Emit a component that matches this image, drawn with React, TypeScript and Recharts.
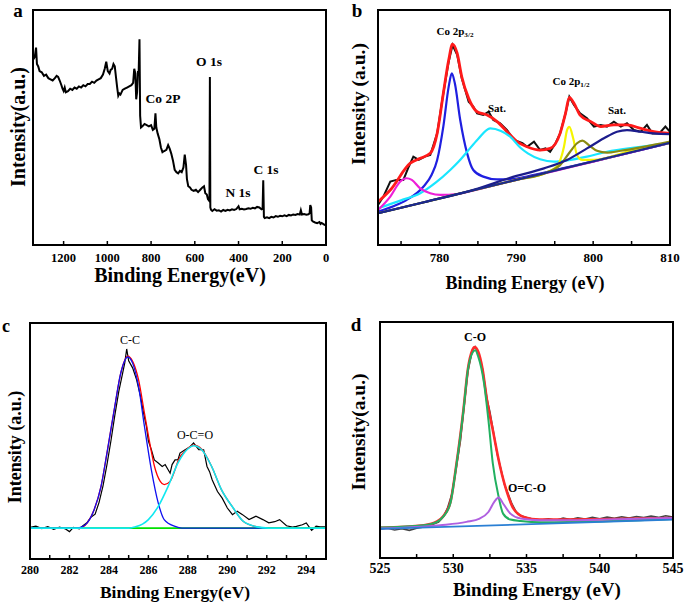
import React from "react";
import { LineChart, Line, XAxis, YAxis } from "recharts";

type Pt = [number, number];

// ---------- a: survey spectrum ----------
const surveyTicks = [1200, 1000, 800, 600, 400, 200, 0];
const survey: Pt[] = [
  [1338, 79], [1332, 80], [1326, 84], [1322, 77], [1316, 76], [1310, 74], [1300, 73.5], [1290, 72],
  [1280, 72.5], [1270, 71], [1260, 70.5], [1250, 70], [1240, 71], [1232, 72], [1225, 71.5], [1218, 70],
  [1210, 68], [1205, 66.5], [1200, 65.5], [1195, 67], [1190, 65], [1180, 65.5], [1170, 66.5], [1160, 66],
  [1150, 67], [1140, 66.5], [1130, 67.5], [1120, 67], [1110, 68], [1100, 67.5], [1090, 68.5], [1080, 68.5],
  [1070, 69.5], [1060, 69], [1050, 70], [1040, 70.5], [1030, 71], [1020, 72.5], [1012, 75], [1005, 78],
  [998, 74], [990, 73], [985, 74.5], [978, 75], [972, 77], [966, 76], [960, 71], [955, 67], [950, 63.5],
  [945, 64.5], [940, 64], [930, 66], [920, 66.5], [910, 67], [900, 67.5], [890, 68], [882, 69], [877, 75],
  [872, 73], [868, 62], [864, 65], [860, 74], [857, 73], [853, 87.5], [850, 55], [846, 50], [840, 50.5],
  [830, 51.5], [820, 51], [810, 50.5], [800, 51], [792, 49], [785, 49.5], [780, 56], [776, 50], [770, 47.5],
  [762, 45], [755, 41.5], [748, 39.5], [740, 40], [730, 40.5], [722, 42.5], [715, 41], [708, 39], [700, 36],
  [692, 32], [684, 31], [676, 30.5], [668, 31.5], [660, 31], [652, 33], [646, 38.5], [640, 34], [636, 28],
  [630, 25], [622, 24.5], [615, 23.5], [605, 23], [595, 23.5], [585, 22.5], [575, 23.5], [565, 24.5],
  [558, 25], [552, 22], [545, 21.5], [540, 19.5], [536, 19], [533, 20], [531, 71.5], [529, 16], [526, 15],
  [520, 14.5], [510, 15.2], [500, 14.6], [490, 14.8], [480, 14.2], [470, 14.9], [460, 14.5], [450, 15],
  [440, 14.7], [430, 15.2], [420, 14.9], [410, 15.3], [400, 16.5], [395, 15.2], [385, 15.4], [375, 15.1],
  [365, 15.3], [355, 15.6], [345, 15.4], [335, 15.8], [325, 15.6], [315, 16.2], [305, 16], [295, 15.2],
  [290, 15.5], [287, 27.5], [284, 12], [280, 11.5], [270, 11.8], [260, 11.4], [250, 12], [240, 11.7],
  [230, 12.3], [220, 12], [210, 12.4], [200, 12.2], [190, 12.6], [180, 12.3], [170, 12.8], [160, 12.6],
  [150, 13], [140, 12.8], [130, 13.2], [120, 13], [115, 14.8], [110, 13], [100, 13.2], [90, 12.9],
  [80, 13.1], [75, 13.5], [72, 17], [68, 16], [65, 10.5], [60, 10], [50, 9.6], [40, 9.3], [30, 9.8],
  [25, 9], [20, 9.4], [10, 8.8], [5, 8.5], [0, 8.6],
];

// ---------- b: Co 2p ----------
const coTicks = [775, 780, 785, 790, 795, 800, 805, 810];
const coLabels = [780, 790, 800, 810];
const coRaw: Pt[] = [
  [772, 17], [772.7, 20.6], [773.6, 27], [774.4, 27.7], [775.3, 27.7], [776, 33.3], [776.6, 37.6],
  [777.3, 36.2], [778.1, 37.6], [778.8, 38.3], [779.7, 47.5], [780.5, 64.5], [781.2, 78], [781.7, 85.1],
  [782.3, 80.9], [782.9, 70.9], [783.8, 61], [784.4, 58.9], [784.9, 56], [785.7, 55.3], [786.4, 56.7],
  [787, 53.2], [787.9, 51.8], [788.8, 48.9], [789.7, 44.7], [790.8, 43.3], [791.4, 41.8], [792.3, 44],
  [793.1, 40.4], [793.8, 41.1], [794.4, 39.7], [795.1, 43.3], [795.7, 47.5], [796.4, 56], [796.9, 63.1],
  [797.5, 59.6], [798.3, 56], [799.2, 53.9], [800.1, 50.4], [801, 51.1], [801.8, 50.4], [802.7, 52.5],
  [803.6, 50.4], [804.4, 51.8], [805.3, 48.9], [806.2, 48.2], [807, 51.1], [807.7, 47.5], [808.6, 47.5],
  [809.4, 50.4], [810, 48.2],
];
const coFit: Pt[] = [
  [772, 18.4], [773.6, 23.4], [776.2, 34.8], [777.5, 36.9], [778.8, 39], [779.7, 47.5], [780.5, 64.5],
  [781.2, 78.7], [781.7, 85.5], [782.3, 81.6], [782.9, 71.6], [783.8, 62.4], [784.9, 56.7], [786.2, 55.3],
  [787.5, 52.5], [788.8, 48.2], [790.1, 44], [791.4, 41.8], [793.1, 40.4], [794.4, 41.1], [795.7, 47.5],
  [796.4, 56], [796.9, 62.8], [797.5, 60.3], [798.3, 55.3], [799.7, 52.5], [801, 50.4], [802.7, 51.1],
  [804.4, 51.1], [806.2, 49.6], [807.9, 48.2], [810, 47.5],
];
const co3_2: Pt[] = [
  [772, 14.2], [774, 16.5], [775.7, 19.1], [777.9, 24.8], [779, 30], [779.7, 36.2], [780.5, 50.4],
  [781.2, 67.4], [781.6, 73], [782, 68.8], [782.7, 53.2], [783.6, 39], [784.4, 31.9], [785.7, 29.1],
  [787.5, 27.9], [789.7, 28.2], [792, 29.6], [796, 32.6], [800, 35.6], [805, 39.5], [810, 43.5],
];
const coSat1: Pt[] = [
  [772, 15.6], [775, 19], [777.5, 22], [779.5, 26.5], [781.4, 31.9], [782.5, 35.5], [783.6, 39.7],
  [785, 45], [786.6, 49.6], [788, 48.5], [789.2, 46.1], [790.5, 41.5], [791.5, 39], [793.1, 36.5],
  [794.9, 35.5], [796.6, 36], [799.2, 37.6], [801.8, 39.7], [806.2, 41.8], [810, 43.5],
];
const coLow: Pt[] = [
  [772, 14.9], [773.6, 20.6], [774.9, 27], [775.7, 28.4], [776.4, 27.7], [777.5, 24.1], [778.8, 22],
  [780.1, 21.3], [782.3, 21.7], [786, 24.5], [790, 27.7], [795, 31.5], [800, 35.5], [805, 39.5], [810, 43.5],
];
const co1_2: Pt[] = [
  [772, 13.5], [778, 18.2], [784, 23], [790, 27.7], [794, 30.9], [795.3, 33.5], [796.2, 41.8],
  [796.6, 48.9], [796.9, 50.3], [797.4, 45.4], [797.9, 38.3], [798.6, 36.2], [800.1, 36.2], [805, 40.2],
  [810, 43.5],
];
const coShoulder: Pt[] = [
  [772, 13.5], [778, 18.2], [784, 23], [790, 27.7], [794, 30.9], [795.7, 34], [797, 39.7], [797.9, 43.3],
  [798.6, 44.4], [799.4, 42.6], [800.5, 40.1], [801.8, 39.3], [803.6, 40.1], [806.6, 41.8], [810, 44],
];
const coSat2: Pt[] = [
  [772, 13.5], [778, 18.2], [785, 24], [789.2, 28.6], [793.6, 32.6], [796.6, 36.2], [799.2, 41.1],
  [801.4, 45.4], [803.1, 48.2], [804.4, 48.9], [806.2, 48.2], [807.9, 47.5], [810, 47.2],
];
const coBase: Pt[] = [[772, 13.5], [810, 43.5]];

// ---------- c: C 1s ----------
const cTicks = [280, 281, 282, 283, 284, 285, 286, 287, 288, 289, 290, 291, 292, 293, 294, 295];
const cLabels = [280, 282, 284, 286, 288, 290, 292, 294];
const cRaw: Pt[] = [
  [280, 13.4], [280.3, 13.9], [280.6, 12.9], [280.9, 13.7], [281.2, 12.6], [281.5, 13.5], [281.8, 12.7],
  [282, 11.6], [282.2, 13.4], [282.5, 12.8], [282.7, 14.2], [282.9, 15.5], [283.1, 17.8], [283.3, 19],
  [283.5, 24], [283.7, 31], [283.9, 40], [284.1, 50], [284.3, 61], [284.5, 71], [284.7, 79], [284.8, 83],
  [284.9, 89], [285, 84], [285.2, 81], [285.4, 76], [285.6, 68.9], [285.75, 62], [285.9, 56.2], [286, 50],
  [286.15, 46.3], [286.3, 42], [286.5, 40.7], [286.7, 39.2], [286.85, 40], [287, 37.8], [287.1, 36.4],
  [287.2, 40], [287.35, 42], [287.5, 42.1], [287.6, 44.9], [287.86, 46.3], [288.1, 47.5], [288.29, 49.2],
  [288.55, 46.3], [288.8, 46.3], [288.97, 39.2], [289.1, 37], [289.23, 33.6], [289.5, 28.6], [289.74, 25.8],
  [290, 21.6], [290.26, 18.8], [290.5, 20.2], [290.77, 18.8], [291.1, 16.7], [291.45, 18.1], [291.8, 16.7],
  [292.1, 15.3], [292.4, 15.8], [292.65, 16.7], [293, 14.1], [293.3, 13.5], [293.5, 13.8], [293.8, 14.5],
  [294, 15.3], [294.27, 12.1], [294.5, 13.9], [294.7, 13.6], [295, 13.6],
];
const cFit: Pt[] = [
  [280, 13.1], [282.5, 13.1], [282.9, 15.3], [283.25, 20.9], [283.6, 30.8], [283.9, 44.9], [284.27, 63.3],
  [284.6, 78.8], [284.96, 86], [285.2, 83.8], [285.5, 76], [285.8, 61.8], [286.1, 47.7], [286.3, 39.5],
  [286.6, 32.9], [286.8, 31.5], [287.1, 32.9], [287.35, 37.8], [287.5, 41.5], [287.95, 46.5], [288.3, 48.2],
  [288.7, 46.5], [289.2, 39.3], [289.7, 29.4], [290.3, 21.6], [290.8, 16], [291.5, 13.6], [292.1, 13.1],
  [295, 13.1],
];
const cCC: Pt[] = [
  [280, 13.1], [282.3, 13.1], [282.56, 13.4], [282.9, 15.3], [283.25, 20.9], [283.6, 30.8], [283.9, 44.9],
  [284.27, 63.3], [284.6, 78.8], [284.96, 85.6], [285.2, 83], [285.5, 73.1], [285.8, 56.2], [286.15, 37.8],
  [286.5, 23.7], [286.8, 16.7], [287.35, 13.8], [287.7, 13.1], [292, 13.1],
];
const cOCO: Pt[] = [
  [280, 13.1], [285, 13.1], [285.3, 13.6], [285.7, 14.8], [286, 16.7], [286.5, 22.3], [287, 30.8],
  [287.5, 40.7], [287.95, 46.3], [288.3, 48], [288.7, 46.3], [289.2, 39.3], [289.7, 29.4], [290.3, 21.6],
  [290.8, 16], [291.5, 13.6], [292.1, 13.1], [295, 13.1],
];
const cBase: Pt[] = [[280, 13.1], [295, 13.1]];

// ---------- d: O 1s ----------
const oTicks = [525, 527.5, 530, 532.5, 535, 537.5, 540, 542.5, 545];
const oLabels = [525, 530, 535, 540, 545];
const oRaw: Pt[] = [
  [525, 12.2], [525.5, 12.6], [526, 11.9], [526.5, 12.4], [527, 11.7], [527.5, 12.6], [528, 13.2],
  [528.5, 14], [529, 15.2], [529.3, 17.2], [529.6, 21], [529.9, 27], [530.2, 38], [530.5, 50], [530.7, 62],
  [531, 79], [531.3, 88], [531.5, 89.5], [531.7, 87], [532, 80], [532.3, 67.5], [532.5, 62], [532.7, 55],
  [533, 44], [533.2, 39], [533.5, 31], [533.7, 28], [534, 23], [534.3, 19.5], [534.6, 18], [535, 17.2],
  [535.5, 16.4], [536, 16.1], [536.5, 16.6], [537, 16], [537.5, 16.9], [538, 16.3], [538.5, 17],
  [539, 16.5], [539.5, 17.2], [540, 16.6], [540.5, 17.3], [541, 16.8], [541.5, 17.5], [542, 16.9],
  [542.5, 17.6], [543, 17.1], [543.5, 17.8], [544, 17.2], [544.5, 17.9], [545, 17.4],
];
const oFit: Pt[] = [
  [525, 12.8], [528, 13.9], [528.9, 15.5], [529.3, 17.6], [529.8, 23.5], [530.2, 39], [530.7, 63],
  [531, 80], [531.3, 88], [531.45, 89.4], [531.7, 87.5], [532, 80], [532.3, 67], [532.7, 54.2],
  [533.2, 38.7], [533.7, 27.3], [534.1, 21], [534.8, 17.4], [535.9, 16.3], [540, 16.4], [545, 16.9],
];
const oCO: Pt[] = [
  [525, 12.9], [528, 13.9], [528.9, 15.3], [529.3, 17.4], [529.8, 23.1], [530.2, 38.7], [530.7, 62.7],
  [531, 79.7], [531.3, 86.8], [531.5, 88], [531.7, 85.4], [532.1, 74.1], [532.4, 58.5], [532.7, 40.1],
  [533.1, 25.9], [533.4, 18.8], [533.9, 16.3], [534.6, 15.7], [536, 15.2], [540, 15.5], [545, 16.5],
];
const oOCO: Pt[] = [
  [525, 12.5], [529.1, 13.9], [530.9, 15.3], [531.8, 16.7], [532.4, 19.5], [532.8, 23.8], [533.1, 25.6],
  [533.4, 23.1], [533.9, 18.8], [534.6, 16.7], [535.9, 16], [538.2, 16], [540.5, 16.3], [545, 17],
];
const oBase: Pt[] = [[525, 12.3], [545, 16.3]];

const FONT = '"Liberation Serif", "Times New Roman", serif';
const rows = (pts: Pt[]) => pts.map(([x, y]) => ({ x, y }));

type Series = { pts: Pt[]; color: string; width: number; curve?: "linear" | "monotone" };

type PanelProps = {
  x: number;
  y: number;
  w: number;
  h: number;
  plot: [number, number, number, number];
  domain: [number, number];
  ticks: number[];
  labels: number[];
  reversed?: boolean;
  fontSize: number;
  tickMargin: number;
  series: Series[];
};

function Panel(p: PanelProps) {
  const [l, t, r, b] = p.plot;
  const axisH = 30;
  const margin = { left: l - p.x, top: t - p.y, right: p.x + p.w - r, bottom: p.y + p.h - b - axisH };
  return (
    <div style={{ position: "absolute", left: p.x, top: p.y, width: p.w, height: p.h }}>
      <LineChart width={p.w} height={p.h} margin={margin}>
        <XAxis
          type="number"
          dataKey="x"
          domain={p.domain}
          ticks={p.ticks}
          interval={0}
          reversed={p.reversed}
          allowDataOverflow
          axisLine={false}
          height={axisH}
          tickSize={-4}
          tickMargin={p.tickMargin}
          tickLine={{ stroke: "#000", strokeWidth: 1.5 }}
          tick={{ fill: "#000", fontSize: p.fontSize, fontFamily: FONT, fontWeight: "bold" }}
          tickFormatter={(v: number) => (p.labels.includes(v) ? String(v) : "")}
        />
        <YAxis type="number" domain={[0, 100]} hide />
        {p.series.map((s, i) => (
          <Line
            key={i}
            data={rows(s.pts)}
            dataKey="y"
            type={s.curve ?? "monotone"}
            stroke={s.color}
            strokeWidth={s.width}
            dot={false}
            isAnimationActive={false}
          />
        ))}
      </LineChart>
      <div
        style={{
          position: "absolute",
          left: l - p.x - 1,
          top: t - p.y - 1,
          width: r - l + 2,
          height: b - t + 2,
          border: "2px solid #000",
          boxSizing: "border-box",
          pointerEvents: "none",
        }}
      />
    </div>
  );
}

function Txt(props: { x: number; y: number; size: number; bold?: boolean; rotate?: boolean; children: React.ReactNode }) {
  return (
    <div
      style={{
        position: "absolute",
        left: props.x,
        top: props.y,
        transform: `translate(-50%, -50%)${props.rotate ? " rotate(-90deg)" : ""}`,
        fontFamily: FONT,
        fontWeight: props.bold === false ? "normal" : "bold",
        fontSize: props.size,
        whiteSpace: "nowrap",
        lineHeight: 1,
        color: "#000",
      }}
    >
      {props.children}
    </div>
  );
}

const sub = { fontSize: "0.65em", verticalAlign: "-0.3em" } as const;

export default function App() {
  return (
    <div style={{ position: "absolute", left: 0, top: 0, width: 685, height: 604, background: "#fff", overflow: "hidden" }}>
      <Panel
        x={0} y={0} w={340} h={290}
        plot={[33, 10, 326, 245]}
        domain={[0, 1340]}
        reversed
        ticks={surveyTicks}
        labels={surveyTicks}
        fontSize={12.5}
        tickMargin={12}
        series={[{ pts: survey, color: "#000", width: 2, curve: "linear" }]}
      />
      <Panel
        x={340} y={0} w={345} h={290}
        plot={[378, 10, 670, 245]}
        domain={[772, 810]}
        ticks={coTicks}
        labels={coLabels}
        fontSize={13}
        tickMargin={12}
        series={[
          { pts: coRaw, color: "#111", width: 2, curve: "linear" },
          { pts: coFit, color: "#ff1a1a", width: 2.8 },
          { pts: co3_2, color: "#1f1fe0", width: 2.2 },
          { pts: coSat1, color: "#19e6ff", width: 2.2 },
          { pts: coLow, color: "#ee1fd8", width: 2.2 },
          { pts: co1_2, color: "#f5f500", width: 2.2 },
          { pts: coShoulder, color: "#8a8a10", width: 2.2 },
          { pts: coSat2, color: "#1c1c8c", width: 2.2 },
          { pts: coBase, color: "#1c2a8c", width: 2.2, curve: "linear" },
        ]}
      />
      <Panel
        x={0} y={300} w={340} h={304}
        plot={[30, 323, 326, 559]}
        domain={[280, 295]}
        ticks={cTicks}
        labels={cLabels}
        fontSize={12}
        tickMargin={10}
        series={[
          { pts: cRaw, color: "#000", width: 1.2, curve: "linear" },
          { pts: cFit, color: "#ff0000", width: 1.3 },
          { pts: cBase, color: "#00e000", width: 1.6, curve: "linear" },
          { pts: cCC, color: "#1010f0", width: 1.3 },
          { pts: cOCO, color: "#10e8f0", width: 1.6 },
        ]}
      />
      <Panel
        x={340} y={300} w={345} h={304}
        plot={[380, 322, 673, 558]}
        domain={[525, 545]}
        ticks={oTicks}
        labels={oLabels}
        fontSize={14}
        tickMargin={9}
        series={[
          { pts: oRaw, color: "#444", width: 1.6, curve: "linear" },
          { pts: oFit, color: "#ff2a2a", width: 2.6 },
          { pts: oCO, color: "#22b060", width: 2 },
          { pts: oOCO, color: "#b060e0", width: 2 },
          { pts: oBase, color: "#2a7fd4", width: 1.8, curve: "linear" },
        ]}
      />

      {/* panel a text */}
      <Txt x={18} y={10} size={19}>a</Txt>
      <Txt x={18} y={127} size={20} rotate>Intensity(a.u.)</Txt>
      <Txt x={180} y={275} size={20}>Binding Energy(eV)</Txt>
      <Txt x={209} y={62} size={13.5}>O 1s</Txt>
      <Txt x={163} y={99} size={13.5}>Co 2P</Txt>
      <Txt x={266} y={170} size={13.5}>C 1s</Txt>
      <Txt x={238} y={193} size={13.5}>N 1s</Txt>

      {/* panel b text */}
      <Txt x={357} y={10} size={19}>b</Txt>
      <Txt x={359} y={104} size={19.5} rotate>Intensity (a.u.)</Txt>
      <Txt x={525} y={283} size={18}>Binding Energy (eV)</Txt>
      <Txt x={455} y={33} size={11}>Co 2p<span style={sub}>3/2</span></Txt>
      <Txt x={571} y={83} size={11}>Co 2p<span style={sub}>1/2</span></Txt>
      <Txt x={497} y={108} size={11}>Sat.</Txt>
      <Txt x={617} y={110} size={11}>Sat.</Txt>

      {/* panel c text */}
      <Txt x={6} y={326} size={18}>c</Txt>
      <Txt x={15} y={447} size={18} rotate>Intensity (a.u.)</Txt>
      <Txt x={175} y={593} size={17.5}>Binding Energy(eV)</Txt>
      <Txt x={130} y={340} size={12} bold={false}>C-C</Txt>
      <Txt x={195} y={435} size={12} bold={false}>O-C=O</Txt>

      {/* panel d text */}
      <Txt x={356} y={324} size={19}>d</Txt>
      <Txt x={359} y={432} size={19.5} rotate>Intensity(a.u.)</Txt>
      <Txt x={537} y={589} size={19}>Binding Energy (eV)</Txt>
      <Txt x={475} y={337} size={12}>C-O</Txt>
      <Txt x={527} y={488} size={12}>O=C-O</Txt>
    </div>
  );
}
